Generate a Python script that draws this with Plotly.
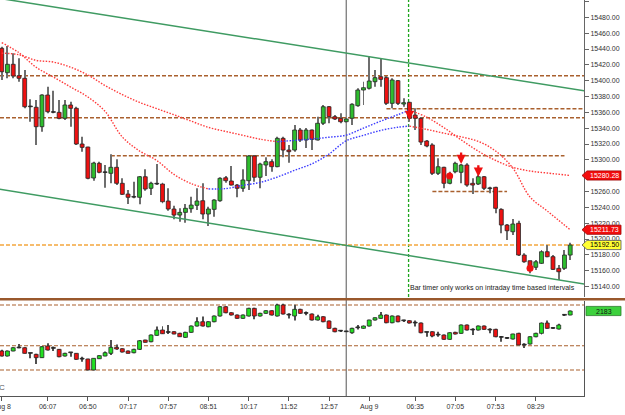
import plotly.graph_objects as go

# ---------------- data ----------------
BARS = list(range(100))

PRICE_OPEN = [15440.9, 15410.1, 15420.7, 15406.3, 15403.0, 15367.5, 15366.4, 15341.9, 15381.9, 15360.5,
              15360.0, 15352.5, 15369.3, 15365.1, 15320.0, 15316.2, 15277.1, 15295.6, 15284.3, 15283.0,
              15290.6, 15270.4, 15256.8, 15252.9, 15252.7, 15278.7, 15264.1, 15269.5, 15269.5, 15248.0,
              15237.9, 15230.3, 15233.7, 15238.3, 15242.6, 15248.4, 15231.6, 15237.5, 15248.4, 15277.4,
              15273.3, 15268.2, 15264.1, 15273.7, 15304.9, 15278.0, 15293.5, 15297.7, 15291.4, 15327.2,
              15312.4, 15312.4, 15337.7, 15325.1, 15337.7, 15325.1, 15346.2, 15367.1, 15354.5, 15352.5,
              15348.2, 15352.5, 15368.4, 15388.2, 15390.4, 15398.7, 15405.0, 15403.8, 15371.4, 15400.0,
              15370.5, 15372.7, 15356.6, 15352.5, 15323.8, 15318.8, 15283.0, 15290.6, 15270.4, 15285.0,
              15284.3, 15293.5, 15270.4, 15269.5, 15278.7, 15264.1, 15265.3, 15237.5, 15217.7, 15209.2,
              15219.9, 15179.8, 15172.6, 15164.3, 15169.3, 15184.0, 15177.7, 15163.0, 15163.0, 15179.8]
PRICE_HIGH = [15442.9, 15443.8, 15434.6, 15428.3, 15413.5, 15376.5, 15375.6, 15382.8, 15392.4, 15387.3,
              15375.6, 15375.6, 15373.5, 15367.1, 15329.2, 15316.6, 15297.7, 15297.7, 15293.5, 15307.0,
              15300.7, 15276.7, 15261.9, 15272.4, 15279.6, 15288.1, 15272.4, 15294.7, 15271.1, 15264.1,
              15242.1, 15238.8, 15244.2, 15253.4, 15264.1, 15270.4, 15240.8, 15250.2, 15277.9, 15279.6,
              15292.2, 15269.5, 15288.1, 15306.1, 15306.1, 15296.4, 15303.2, 15300.7, 15329.2, 15329.2,
              15318.7, 15344.0, 15340.2, 15340.2, 15338.5, 15354.5, 15369.3, 15368.0, 15356.6, 15358.8,
              15352.5, 15371.4, 15390.4, 15398.7, 15431.2, 15413.5, 15428.3, 15405.9, 15403.0, 15400.9,
              15377.7, 15373.4, 15365.1, 15354.1, 15325.1, 15320.9, 15302.0, 15291.3, 15285.0, 15297.7,
              15294.8, 15295.6, 15276.7, 15280.9, 15279.6, 15266.1, 15266.1, 15238.8, 15219.0, 15225.3,
              15223.1, 15181.9, 15172.6, 15173.5, 15186.1, 15192.4, 15179.8, 15167.2, 15186.1, 15195.3]
PRICE_LOW = [15400.9, 15403.0, 15403.0, 15398.7, 15365.1, 15348.2, 15318.7, 15335.6, 15358.8, 15358.8,
             15351.2, 15350.3, 15341.9, 15318.7, 15310.3, 15275.4, 15273.7, 15283.0, 15264.8, 15270.4,
             15268.2, 15255.6, 15244.2, 15251.4, 15243.8, 15261.0, 15255.6, 15268.2, 15245.1, 15235.8,
             15224.9, 15221.9, 15220.6, 15233.2, 15236.7, 15224.9, 15216.4, 15228.2, 15247.1, 15271.1,
             15267.5, 15252.7, 15259.8, 15261.9, 15272.4, 15264.1, 15279.6, 15285.0, 15290.6, 15303.2,
             15296.4, 15310.3, 15322.5, 15315.0, 15312.4, 15324.5, 15344.0, 15346.2, 15350.3, 15346.2,
             15347.2, 15344.0, 15367.1, 15369.3, 15389.0, 15392.4, 15392.4, 15369.3, 15365.1, 15369.3,
             15367.1, 15348.2, 15337.7, 15318.8, 15315.8, 15280.9, 15280.9, 15264.1, 15269.1, 15283.0,
             15270.4, 15266.1, 15256.9, 15268.2, 15261.9, 15257.7, 15232.5, 15207.2, 15198.8, 15205.1,
             15178.5, 15170.1, 15156.7, 15160.9, 15168.4, 15176.9, 15160.9, 15148.2, 15160.9, 15173.5]
PRICE_CLOSE = [15411.3, 15420.7, 15405.9, 15403.0, 15367.1, 15367.1, 15341.9, 15381.9, 15360.8, 15360.0,
               15352.5, 15369.3, 15365.1, 15320.0, 15315.8, 15276.7, 15296.0, 15284.3, 15284.0, 15290.6,
               15270.4, 15256.5, 15252.7, 15253.3, 15278.7, 15263.2, 15270.4, 15269.8, 15247.1, 15237.9,
               15230.3, 15233.7, 15238.8, 15242.9, 15248.0, 15231.6, 15237.9, 15249.3, 15276.7, 15273.7,
               15268.2, 15264.1, 15274.6, 15304.9, 15278.0, 15294.7, 15297.7, 15291.4, 15327.2, 15312.4,
               15310.3, 15337.7, 15325.1, 15337.7, 15325.9, 15346.2, 15367.1, 15354.5, 15351.6, 15348.2,
               15351.6, 15370.2, 15388.2, 15391.1, 15399.6, 15403.8, 15401.7, 15371.4, 15400.9, 15371.4,
               15372.2, 15352.5, 15352.5, 15322.5, 15317.5, 15283.0, 15291.3, 15270.4, 15278.7, 15295.6,
               15293.5, 15268.2, 15268.2, 15278.7, 15264.1, 15263.7, 15238.8, 15217.7, 15210.5, 15219.0,
               15179.8, 15171.3, 15163.0, 15171.3, 15184.0, 15177.7, 15161.7, 15158.7, 15179.8, 15192.5]

IND_OPEN = [1583, 1508, 1583, 1630, 1632, 1550, 1533, 1483, 1658, 1625,
            1608, 1508, 1560, 1548, 1465, 1463, 1298, 1467, 1508, 1548,
            1638, 1617, 1583, 1557, 1608, 1748, 1722, 1818, 1898, 1865,
            1872, 1848, 1788, 1863, 1958, 2022, 1947, 2022, 2108, 2247,
            2157, 2123, 2073, 2108, 2223, 2108, 2148, 2187, 2108, 2273,
            2125, 2108, 2208, 2150, 2138, 2048, 2097, 2033, 1923, 1885,
            1875, 1857, 1935, 1923, 1958, 2048, 2073, 2123, 2007, 2108,
            2040, 2037, 2005, 2003, 1865, 1872, 1825, 1823, 1758, 1863,
            1848, 1973, 1900, 1898, 1958, 1900, 1908, 1790, 1775, 1763,
            1848, 1673, 1688, 1797, 1848, 2003, 1928, 1913, 2120, 2123]
IND_HIGH = [1600, 1590, 1640, 1688, 1640, 1552, 1540, 1655, 1700, 1650,
            1612, 1555, 1562, 1550, 1497, 1466, 1476, 1520, 1575, 1748,
            1680, 1625, 1590, 1615, 1748, 1752, 1830, 1950, 1955, 1973,
            1880, 1855, 1870, 1965, 2090, 2100, 2030, 2115, 2255, 2255,
            2165, 2130, 2130, 2230, 2230, 2155, 2195, 2195, 2290, 2290,
            2150, 2275, 2215, 2175, 2145, 2125, 2105, 2040, 1930, 1890,
            1880, 1930, 1973, 1965, 2050, 2085, 2168, 2130, 2115, 2115,
            2050, 2045, 2040, 2010, 1873, 1880, 1873, 1830, 1865, 1870,
            1980, 1980, 1925, 1965, 1965, 1925, 1915, 1808, 1780, 1840,
            1855, 1698, 1805, 1855, 2010, 2040, 1935, 1990, 2125, 2190]
IND_LOW = [1500, 1500, 1578, 1625, 1545, 1473, 1388, 1478, 1590, 1583,
           1490, 1500, 1497, 1450, 1423, 1296, 1296, 1462, 1505, 1523,
           1600, 1560, 1545, 1550, 1598, 1710, 1715, 1812, 1838, 1838,
           1835, 1795, 1783, 1858, 1950, 1950, 1940, 2015, 2100, 2150,
           2115, 2065, 2065, 2100, 2060, 2100, 2140, 2115, 2100, 2130,
           2070, 2040, 2140, 2120, 2040, 2040, 2015, 1915, 1865, 1875,
           1868, 1840, 1905, 1915, 1950, 2040, 2065, 2000, 2000, 2015,
           2025, 1995, 1950, 1850, 1797, 1790, 1797, 1750, 1750, 1830,
           1840, 1890, 1823, 1890, 1900, 1850, 1790, 1722, 1765, 1755,
           1673, 1628, 1680, 1790, 1830, 1915, 1918, 1905, 2118, 2118]
IND_CLOSE = [1508, 1583, 1632, 1634, 1548, 1548, 1483, 1647, 1598, 1623,
             1497, 1548, 1557, 1458, 1462, 1298, 1473, 1513, 1557, 1638,
             1613, 1568, 1548, 1608, 1737, 1713, 1823, 1898, 1842, 1862,
             1838, 1797, 1863, 1958, 2022, 1958, 2022, 2108, 2247, 2157,
             2123, 2073, 2123, 2223, 2108, 2148, 2187, 2123, 2273, 2138,
             2123, 2208, 2148, 2148, 2048, 2097, 2022, 1923, 1872, 1882,
             1872, 1923, 1932, 1958, 2048, 2082, 2123, 2007, 2108, 2022,
             2037, 2003, 2003, 1857, 1863, 1808, 1823, 1758, 1857, 1838,
             1973, 1898, 1898, 1958, 1908, 1898, 1797, 1788, 1773, 1838,
             1673, 1683, 1797, 1848, 2003, 1923, 1923, 1973, 2123, 2183]

TIME_TICK_BARS = [0, 8, 15, 22, 29, 36, 43, 50, 57, 64, 72, 79, 86, 93]
TIME_TICK_LABELS = ["Aug 8", "06:07", "06:50", "07:17", "07:57", "08:51", "10:17",
                    "11:52", "12:57", "Aug 9", "06:35", "07:05", "07:53", "08:29"]
PRICE_TICKS = [15140, 15160, 15180, 15200, 15220, 15240, 15260, 15280, 15300, 15320,
               15340, 15360, 15380, 15400, 15420, 15440, 15460, 15480, 15500]

MA_BARS = [0, 3, 6, 9, 12, 15, 18, 21, 24, 27, 30, 33, 36, 39, 42, 45, 48, 51, 54, 57,
           60, 63, 66, 69, 71, 74, 77, 80, 83, 86, 89, 92, 95, 99]
MA_SLOW = [15434.8, 15432.8, 15425.7, 15423.5, 15417.0, 15407.2, 15393.9, 15382.4, 15372.6, 15364.7,
           15356.9, 15348.9, 15341.0, 15335.9, 15331.0, 15326.1, 15322.9, 15324.6, 15326.3, 15328.6,
           15331.3, 15340.1, 15348.9, 15357.1, 15362.7, 15353.9, 15340.7, 15325.3, 15310.9, 15299.3,
           15290.6, 15285.9, 15283.4, 15280.28]
MA_FAST = [15448.0, 15435.3, 15416.9, 15404.6, 15392.0, 15379.4, 15361.2, 15328.9, 15311.2, 15299.2,
           15281.6, 15270.0, 15263.3, 15263.7, 15267.8, 15271.5, 15278.3, 15286.8, 15294.9, 15307.4,
           15324.1, 15331.0, 15337.2, 15341.2, 15342.6, 15338.5, 15333.7, 15329.1, 15323.3, 15311.2,
           15289.7, 15253.1, 15235.4, 15211.73]
SLOW_RISING = (48, 71)
FAST_RISING = (36, 71)

LEVEL_PRICES = [15406.3, 15364.6, 15353.2, 15305.2, 15260.0]
LEVEL_START_BAR = [None, 67, None, 19, 75]
LEVEL_END_BAR = [None, None, None, 98, 88]
IND_LEVELS = [2273, 1662, 1298]

CHANNEL_BARS = [0, 99]
CHANNEL_UPPER = [15503.5, 15390.0]
CHANNEL_LOWER = [15262.4, 15146.1]

SESSION_BAR = 60
TIMER_BAR = 70.85
ARROW_BARS = [71, 80, 83]
ARROW_PRICES = [15350.3, 15294.7, 15278.7]
DOT_BARS = [78, 92]
DOT_PRICES = [15279.6, 15163.0]

# ---------------- layout constants ----------------
W, H = 625, 415
PLOT_W, PLOT_H = 584, 396
TOP_PX, BOT_PX = 297, 95
X_RANGE = [-0.3, 101.4]
Y_RANGE = [15126.8, 15501.9]
Y2_RANGE = [908, 2333]
TOP_DOMAIN = [1 - TOP_PX / PLOT_H, 1]
BOT_DOMAIN = [0, BOT_PX / PLOT_H]
FONT = "Arial, Liberation Sans, sans-serif"

UP_TOP, DN_TOP, UP_BOT, DN_BOT = "#2ebd2e", "#ee1111", "#22e022", "#ee1111"
DOJI = "#2a2a2a"
RED_MA, BLUE_MA = "#ff3b3b", "#3b3bff"
BROWN = "#a9602e"

fig = go.Figure()


def candle_traces(o, h, l, c, yaxis, up, dn, tol, min_h, wick_col):
    colors = []
    bases, heights = [], []
    for oo, cc in zip(o, c):
        d = cc - oo
        if abs(d) <= tol:
            colors.append(DOJI)
        elif d > 0:
            colors.append(up)
        else:
            colors.append(dn)
        bases.append(min(oo, cc))
        heights.append(max(abs(d), min_h))
    fig.add_trace(go.Bar(x=BARS, base=l, y=[hh - ll for hh, ll in zip(h, l)], width=0.17,
                         marker=dict(color=wick_col, line=dict(width=0)), yaxis=yaxis,
                         hoverinfo="skip", showlegend=False))
    fig.add_trace(go.Bar(x=BARS, base=bases, y=heights, width=0.68,
                         marker=dict(color=colors, line=dict(color="#262626", width=0.8)),
                         yaxis=yaxis, hoverinfo="skip", showlegend=False))


candle_traces(PRICE_OPEN, PRICE_HIGH, PRICE_LOW, PRICE_CLOSE, "y", UP_TOP, DN_TOP, 1.5, 0.9, "#6e6e6e")
candle_traces(IND_OPEN, IND_HIGH, IND_LOW, IND_CLOSE, "y2", UP_BOT, DN_BOT, 10, 12, "#505050")


# moving averages, coloured by rising / falling stretches
def ma_segments(vals, rising):
    a, b = rising
    segs = [([x for x in MA_BARS if x <= a], RED_MA),
            ([x for x in MA_BARS if a <= x <= b], BLUE_MA),
            ([x for x in MA_BARS if x >= b], RED_MA)]
    for xs, col in segs:
        ys = [vals[MA_BARS.index(x)] for x in xs]
        fig.add_trace(go.Scatter(x=xs, y=ys, mode="lines", yaxis="y",
                                 line=dict(color=col, width=1.4, dash="1.5px,1.5px", shape="spline"),
                                 hoverinfo="skip", showlegend=False))


ma_segments(MA_SLOW, SLOW_RISING)
ma_segments(MA_FAST, FAST_RISING)

# channel lines, extended across the whole axis
for chan in (CHANNEL_UPPER, CHANNEL_LOWER):
    slope = (chan[1] - chan[0]) / (CHANNEL_BARS[1] - CHANNEL_BARS[0])
    xs = [X_RANGE[0] - 1, X_RANGE[1] + 1]
    ys = [chan[0] + slope * (x - CHANNEL_BARS[0]) for x in xs]
    fig.add_trace(go.Scatter(x=xs, y=ys, mode="lines", yaxis="y",
                             line=dict(color="#3f9b62", width=1.5), hoverinfo="skip", showlegend=False))

# signal dots
fig.add_trace(go.Scatter(x=DOT_BARS, y=DOT_PRICES, mode="markers", yaxis="y",
                         marker=dict(color="#f01010", size=7), hoverinfo="skip", showlegend=False))

shapes = []
for p, s, e in zip(LEVEL_PRICES, LEVEL_START_BAR, LEVEL_END_BAR):
    x0 = X_RANGE[0] if s is None else s
    x1 = X_RANGE[1] if e is None else e
    shapes.append(dict(type="line", xref="x", yref="y", x0=x0, x1=x1, y0=p, y1=p,
                       line=dict(color=BROWN, width=1.4, dash="4px,2px"), layer="below"))
shapes.append(dict(type="line", xref="x", yref="y", x0=X_RANGE[0], x1=X_RANGE[1],
                   y0=PRICE_CLOSE[-1], y1=PRICE_CLOSE[-1],
                   line=dict(color="#f4a63e", width=1.5, dash="4px,2px"), layer="below"))
for v in IND_LEVELS:
    shapes.append(dict(type="line", xref="x", yref="y2", x0=X_RANGE[0], x1=X_RANGE[1], y0=v, y1=v,
                       line=dict(color=BROWN, width=1.2, dash="4px,2px"), layer="below"))
shapes.append(dict(type="line", xref="x", yref="paper", x0=SESSION_BAR, x1=SESSION_BAR, y0=0, y1=1,
                   line=dict(color="#7c7c7c", width=1.3), layer="below"))
shapes.append(dict(type="line", xref="x", yref="paper", x0=TIMER_BAR, x1=TIMER_BAR,
                   y0=TOP_DOMAIN[0], y1=1, line=dict(color="#1ea51e", width=1.3, dash="3px,2px"),
                   layer="below"))
sep_y = (PLOT_H - 299.3) / PLOT_H
shapes.append(dict(type="line", xref="paper", yref="paper", x0=0, x1=W / PLOT_W, y0=sep_y, y1=sep_y,
                   line=dict(color="#99582c", width=2.6), layer="above"))

# value tags on the right scale
top_per_px = (Y_RANGE[1] - Y_RANGE[0]) / TOP_PX
bot_per_px = (Y2_RANGE[1] - Y2_RANGE[0]) / BOT_PX
annotations = []


def tag(val, yref, per_px, fill, border, txtcol, label, tip=True):
    hh = 4.6 * per_px
    t = 582 / PLOT_W if tip else 586 / PLOT_W
    l = 587 / PLOT_W if tip else 586 / PLOT_W
    r = 621 / PLOT_W
    path = (f"M {t},{val} L {l},{val + hh} L {r},{val + hh} L {r},{val - hh} "
            f"L {l},{val - hh} Z")
    shapes.append(dict(type="path", xref="paper", yref=yref, path=path, fillcolor=fill,
                       line=dict(color=border, width=0.8), layer="above"))
    annotations.append(dict(x=604 / PLOT_W, y=val, xref="paper", yref=yref, text=label,
                            showarrow=False, xanchor="center", yanchor="middle",
                            font=dict(family=FONT, size=7, color=txtcol)))


tag(MA_SLOW[-1], "y", top_per_px, "#f20d0d", "#a00000", "white", f"{MA_SLOW[-1]:.2f}")
tag(MA_FAST[-1], "y", top_per_px, "#f20d0d", "#a00000", "white", f"{MA_FAST[-1]:.2f}")
tag(PRICE_CLOSE[-1], "y", top_per_px, "#ffff33", "#555555", "black", f"{PRICE_CLOSE[-1]:.2f}")
tag(IND_CLOSE[-1], "y2", bot_per_px, "#3dd13d", "#2a7a2a", "#111111", f"{IND_CLOSE[-1]}", tip=False)

for b, p in zip(ARROW_BARS, ARROW_PRICES):
    annotations.append(dict(x=b, y=p, xref="x", yref="y", text="", showarrow=True, ax=0, ay=-13,
                            arrowhead=2, arrowsize=0.8, arrowwidth=2.3, arrowcolor="#ee1010"))

annotations.append(dict(x=577 / PLOT_W, y=(PLOT_H - 288.3) / PLOT_H, xref="paper", yref="paper",
                        text="Bar timer only works on intraday time based intervals", showarrow=False,
                        xanchor="right", yanchor="middle", font=dict(family=FONT, size=7, color="#222222")))
annotations.append(dict(x=-3 / PLOT_W, y=(PLOT_H - 387) / PLOT_H, xref="paper", yref="paper",
                        text="C", showarrow=False, xanchor="left", yanchor="middle",
                        font=dict(family=FONT, size=8, color="#555555")))

fig.update_layout(
    width=W, height=H, autosize=False,
    margin=dict(l=0, r=W - PLOT_W, t=0, b=H - PLOT_H, pad=0, autoexpand=False),
    paper_bgcolor="white", plot_bgcolor="white",
    barmode="overlay", showlegend=False,
    font=dict(family=FONT, size=7, color="#333333"),
    xaxis=dict(range=X_RANGE, anchor="y2", showgrid=False, zeroline=False, automargin=False,
               showline=True, linecolor="#555555", linewidth=1,
               tickmode="array", tickvals=TIME_TICK_BARS, ticktext=TIME_TICK_LABELS,
               ticks="outside", ticklen=4, tickcolor="#555555", ticklabeloverflow="allow",
               tickfont=dict(family=FONT, size=7, color="#333333")),
    yaxis=dict(domain=TOP_DOMAIN, range=Y_RANGE, side="right", anchor="x", automargin=False,
               showgrid=False, zeroline=False, showline=True, linecolor="#666666", linewidth=1,
               tickmode="array", tickvals=PRICE_TICKS, ticktext=[f"{v:.2f}" for v in PRICE_TICKS],
               ticks="outside", ticklen=4, tickcolor="#666666",
               tickfont=dict(family=FONT, size=7, color="#333333")),
    yaxis2=dict(domain=BOT_DOMAIN, range=Y2_RANGE, side="right", anchor="x", automargin=False,
                showgrid=False, zeroline=False, showline=True, linecolor="#555555", linewidth=1,
                showticklabels=False, ticks=""),
    shapes=shapes, annotations=annotations,
)

fig.write_html("out.html")
